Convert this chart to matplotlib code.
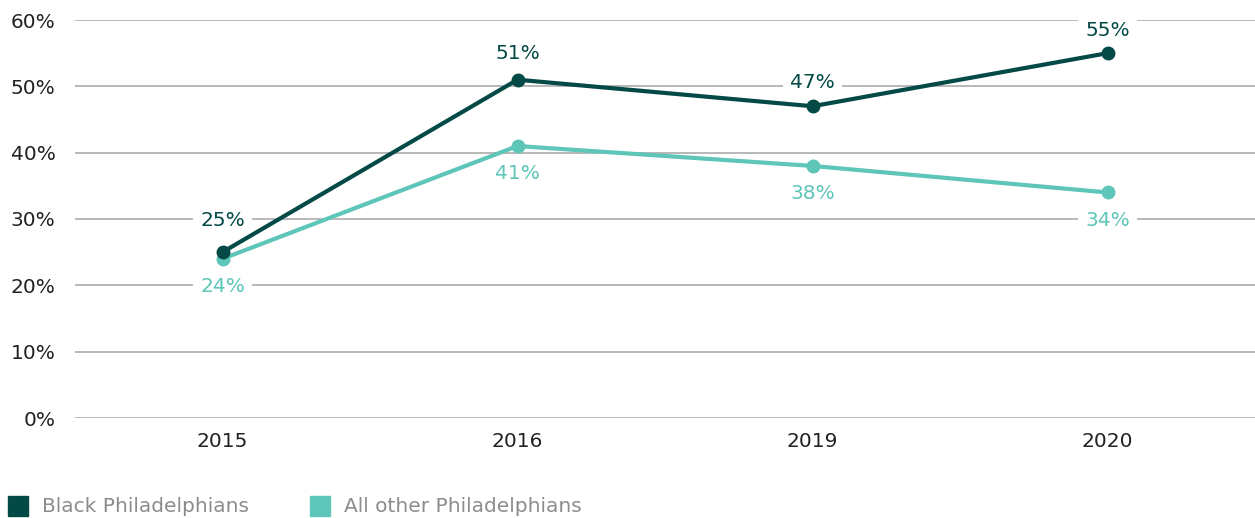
import matplotlib.pyplot as plt

years = ["2015", "2016", "2019", "2020"]
black = [25, 51, 47, 55]
other = [24, 41, 38, 34]
yticks = [0, 10, 20, 30, 40, 50, 60]

dark = "#034a46"
light = "#5ec5b9"
grid = "#ababab"

plt.rcParams["font.family"] = ["DejaVu Sans"]

fig = plt.figure(figsize=(12.55, 5.18), dpi=100)
ax = fig.add_axes([75 / 1255, 1 - 418 / 518, 1180 / 1255, 398 / 518])

x = range(len(years))
ax.plot(x, other, color=light, lw=3, marker="o", ms=9, zorder=3, solid_capstyle="round")
ax.plot(x, black, color=dark, lw=3, marker="o", ms=9, zorder=4, solid_capstyle="round")

box = dict(facecolor="white", edgecolor="none", pad=5)
dark_off = [23, 19, 17, 16]
for i, v in enumerate(black):
    ax.annotate(f"{v}%", (i, v), xytext=(0, dark_off[i]), textcoords="offset points",
                ha="center", va="center", fontsize=14.5, color=dark, bbox=box, zorder=2)
for i, v in enumerate(other):
    ax.annotate(f"{v}%", (i, v), xytext=(0, -20), textcoords="offset points",
                ha="center", va="center", fontsize=14.5, color=light, bbox=box, zorder=2)

ax.set_xlim(-0.5, 3.5)
ax.set_ylim(0, 60)
ax.set_yticks(yticks)
ax.set_yticklabels([f"{t}%" for t in yticks])
ax.set_xticks(list(x))
ax.set_xticklabels(years)
ax.tick_params(length=0, labelsize=14.5, labelcolor="#222222")
ax.tick_params(axis="y", pad=14)
ax.tick_params(axis="x", pad=10)
ax.yaxis.grid(True, color=grid, lw=1.2)
ax.set_axisbelow(True)
for s in ax.spines.values():
    s.set_visible(False)

# legend
fig.patches.append(plt.Rectangle((8 / 1255, 1 - 516 / 518), 20 / 1255, 20 / 518,
                                 transform=fig.transFigure, color=dark))
fig.text(42 / 1255, 1 - 506 / 518, "Black Philadelphians", fontsize=14.5,
         color="#8c8c8c", va="center")
fig.patches.append(plt.Rectangle((310 / 1255, 1 - 516 / 518), 20 / 1255, 20 / 518,
                                 transform=fig.transFigure, color=light))
fig.text(344 / 1255, 1 - 506 / 518, "All other Philadelphians", fontsize=14.5,
         color="#8c8c8c", va="center")

fig.savefig("out.png", dpi=100)
